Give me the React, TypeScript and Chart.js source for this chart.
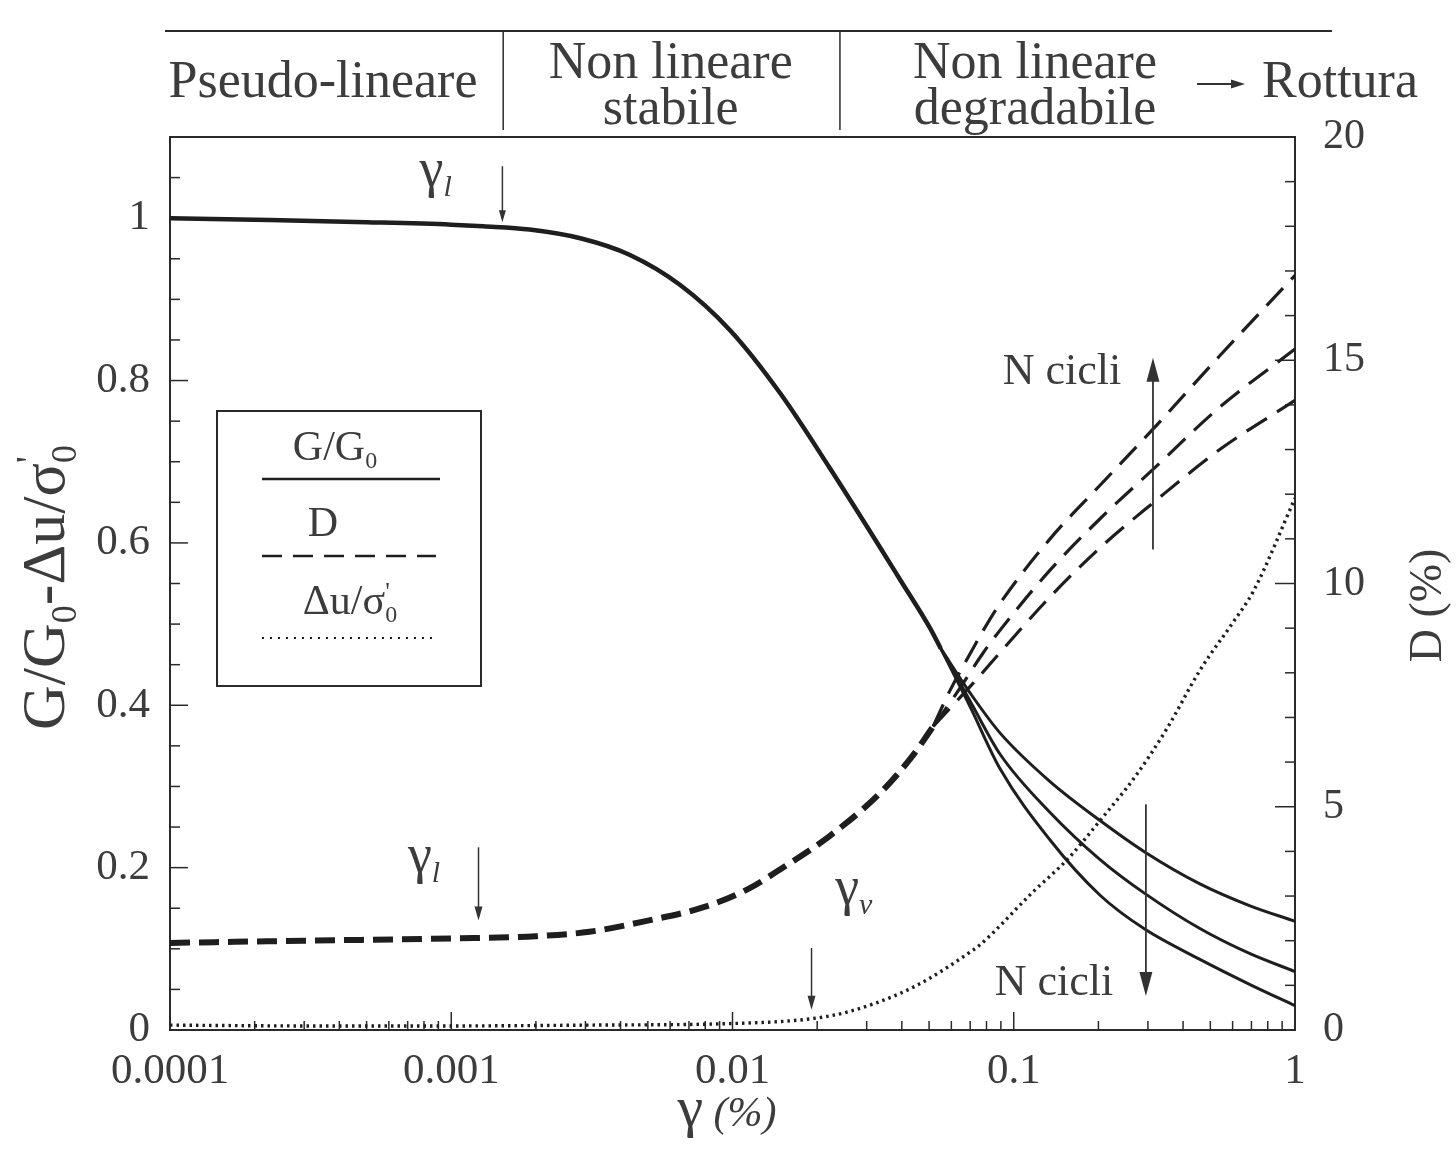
import React, { useEffect, useRef } from 'react';
import { Chart, registerables } from 'chart.js';

Chart.register(...registerables);

// ---------- axis ticks ----------
const gammaTicks = [0.0001, 0.001, 0.01, 0.1, 1];
const gammaTickLabels = ['0.0001', '0.001', '0.01', '0.1', '1'];
const leftTicks = [0, 0.2, 0.4, 0.6, 0.8, 1];
const leftTickLabels = ['0', '0.2', '0.4', '0.6', '0.8', '1'];
const rightTicks = [0, 5, 10, 15, 20];
const rightTickLabels = ['0', '5', '10', '15', '20'];

// ---------- G/G0 (left axis) ----------
const gCommonGamma = [0.0001, 0.0002, 0.0005, 0.001, 0.0013, 0.0019, 0.0029, 0.0043, 0.0065, 0.0098, 0.0148, 0.0222, 0.0334, 0.0394, 0.0504, 0.055];
const gCommonValue = [1.0, 0.998, 0.995, 0.992, 0.99, 0.986, 0.975, 0.955, 0.918, 0.862, 0.784, 0.692, 0.595, 0.555, 0.495, 0.47];
const gUpperGamma = [0.07, 0.0893, 0.1346, 0.2027, 0.293, 0.459, 0.692, 1];
const gUpperValue = [0.415, 0.366, 0.306, 0.258, 0.219, 0.18, 0.153, 0.134];
const gMiddleGamma = [0.07, 0.0893, 0.1346, 0.2027, 0.293, 0.459, 0.692, 1];
const gMiddleValue = [0.405, 0.34, 0.268, 0.21, 0.168, 0.125, 0.094, 0.072];
const gLowerGamma = [0.07, 0.0893, 0.1346, 0.2027, 0.293, 0.459, 0.692, 1];
const gLowerValue = [0.398, 0.322, 0.234, 0.166, 0.124, 0.087, 0.056, 0.03];

// ---------- D % (right axis) ----------
const dCommonGamma = [0.0001, 0.0003, 0.001, 0.002, 0.0031, 0.005, 0.0079, 0.0113, 0.0148, 0.0222, 0.0334, 0.0438, 0.0517];
const dCommonValue = [1.95, 2.0, 2.05, 2.1, 2.2, 2.45, 2.75, 3.15, 3.6, 4.35, 5.3, 6.15, 6.8];
const dUpperGamma = [0.0593, 0.0693, 0.0779, 0.0893, 0.1346, 0.2027, 0.312, 0.54, 1];
const dUpperValue = [7.6, 8.38, 8.95, 9.55, 11.0, 12.2, 13.45, 15.1, 16.9];
const dMiddleGamma = [0.0627, 0.0779, 0.0893, 0.1346, 0.2027, 0.312, 0.54, 1];
const dMiddleValue = [7.55, 8.45, 8.95, 10.3, 11.45, 12.55, 13.95, 15.25];
const dLowerGamma = [0.0737, 0.0893, 0.1346, 0.2027, 0.312, 0.54, 1];
const dLowerValue = [7.85, 8.45, 9.7, 10.8, 11.8, 13.0, 14.1];

// ---------- Δu/σ'0 (left axis) ----------
const uGamma = [0.0001, 0.0003, 0.001, 0.003, 0.01, 0.0192, 0.0255, 0.0394, 0.0504, 0.0686, 0.0759, 0.117, 0.156, 0.2027, 0.27, 0.35, 0.459, 0.61, 0.71, 1];
const uValue = [0.006, 0.005, 0.005, 0.006, 0.008, 0.014, 0.022, 0.045, 0.064, 0.094, 0.105, 0.17, 0.211, 0.258, 0.312, 0.371, 0.443, 0.505, 0.54, 0.655];

// ---------- annotations ----------
const regionBounds = [0.00153, 0.0241];
const regionLabelGamma = [0.00035, 0.00603, 0.119];
const gammaLTop = 0.00152;
const gammaLD = 0.00125;
const gammaV = 0.0191;
const nCicliUpGamma = 0.3126;
const nCicliDownGamma = 0.295;

const FONT = "'Liberation Serif', 'DejaVu Serif', 'Times New Roman', serif";
const TEXT = '#3c3c3c';
const LINE = '#1e1e1e';

const pts = (xs: number[], ys: number[]) => xs.map((x, i) => ({ x, y: ys[i] }));
const lastOf = (xs: number[], ys: number[]) => ({ x: xs[xs.length - 1], y: ys[ys.length - 1] });

type Part = { t: string; s: number; dy?: number; it?: boolean; adv?: boolean };

function fontOf(p: Part) {
  return `${p.it ? 'italic ' : ''}${p.s}px ${FONT}`;
}
function partsWidth(ctx: CanvasRenderingContext2D, parts: Part[]) {
  let w = 0;
  for (const p of parts) {
    ctx.font = fontOf(p);
    if (p.adv !== false) w += ctx.measureText(p.t).width;
  }
  return w;
}
function drawParts(ctx: CanvasRenderingContext2D, parts: Part[], x: number, y: number, align: 'left' | 'center' | 'right') {
  const w = partsWidth(ctx, parts);
  let cx = align === 'center' ? x - w / 2 : align === 'right' ? x - w : x;
  ctx.textAlign = 'left';
  ctx.textBaseline = 'alphabetic';
  for (const p of parts) {
    ctx.font = fontOf(p);
    ctx.fillText(p.t, cx, y + (p.dy || 0));
    if (p.adv !== false) cx += ctx.measureText(p.t).width;
  }
}
function drawArrow(ctx: CanvasRenderingContext2D, x1: number, y1: number, x2: number, y2: number, hl: number, hw: number, lw: number) {
  const a = Math.atan2(y2 - y1, x2 - x1);
  ctx.save();
  ctx.lineWidth = lw;
  ctx.strokeStyle = '#333';
  ctx.fillStyle = '#333';
  ctx.setLineDash([]);
  ctx.beginPath();
  ctx.moveTo(x1, y1);
  ctx.lineTo(x2 - Math.cos(a) * hl * 0.6, y2 - Math.sin(a) * hl * 0.6);
  ctx.stroke();
  ctx.beginPath();
  ctx.moveTo(x2, y2);
  ctx.lineTo(x2 - Math.cos(a) * hl + Math.sin(a) * hw / 2, y2 - Math.sin(a) * hl - Math.cos(a) * hw / 2);
  ctx.lineTo(x2 - Math.cos(a) * hl - Math.sin(a) * hw / 2, y2 - Math.sin(a) * hl + Math.cos(a) * hw / 2);
  ctx.closePath();
  ctx.fill();
  ctx.restore();
}

const decorPlugin = {
  id: 'decor',
  beforeDatasetsDraw(chart: any) {
    const { ctx, chartArea: ca, scales } = chart;
    const xs = scales.x, yl = scales.y, yr = scales.y2;
    ctx.save();
    ctx.strokeStyle = '#2a2a2a';
    ctx.lineWidth = 2;
    ctx.setLineDash([]);
    ctx.strokeRect(ca.left, ca.top, ca.right - ca.left, ca.bottom - ca.top);
    ctx.lineWidth = 1.5;
    for (let d = -4; d <= 0; d++) {
      for (let k = 1; k <= 9; k++) {
        const v = k * Math.pow(10, d);
        if (v > 1.0000001) break;
        const px = xs.getPixelForValue(v);
        const len = k === 1 ? 18 : 9;
        ctx.beginPath();
        ctx.moveTo(px, ca.bottom);
        ctx.lineTo(px, ca.bottom - len);
        ctx.stroke();
      }
    }
    for (let i = 0; i <= 21; i++) {
      const v = i * 0.05;
      const py = yl.getPixelForValue(v);
      const major = i % 4 === 0;
      ctx.beginPath();
      ctx.moveTo(ca.left, py);
      ctx.lineTo(ca.left + (major ? 18 : 10), py);
      ctx.stroke();
    }
    for (let i = 0; i <= 20; i++) {
      const py = yr.getPixelForValue(i);
      const major = i % 5 === 0;
      ctx.beginPath();
      ctx.moveTo(ca.right, py);
      ctx.lineTo(ca.right - (major ? 20 : 10), py);
      ctx.stroke();
    }
    ctx.restore();
  },
  afterDraw(chart: any) {
    const { ctx, chartArea: ca, scales } = chart;
    const xs = scales.x, yl = scales.y;
    const X = (g: number) => xs.getPixelForValue(g);
    const Y = (v: number) => yl.getPixelForValue(v);
    ctx.save();
    ctx.fillStyle = TEXT;

    // top band
    ctx.strokeStyle = '#2a2a2a';
    ctx.lineWidth = 2.2;
    ctx.beginPath();
    ctx.moveTo(165, 31);
    ctx.lineTo(1332, 31);
    ctx.stroke();
    ctx.lineWidth = 1.5;
    for (const g of regionBounds) {
      ctx.beginPath();
      ctx.moveTo(X(g), 31);
      ctx.lineTo(X(g), 130);
      ctx.stroke();
    }
    ctx.font = `52px ${FONT}`;
    ctx.textAlign = 'center';
    ctx.textBaseline = 'middle';
    ctx.fillText('Pseudo-lineare', X(regionLabelGamma[0]), 83);
    ctx.fillText('Non lineare', X(regionLabelGamma[1]), 64);
    ctx.fillText('stabile', X(regionLabelGamma[1]), 110);
    ctx.fillText('Non lineare', X(regionLabelGamma[2]), 64);
    ctx.fillText('degradabile', X(regionLabelGamma[2]), 110);
    drawArrow(ctx, 1197, 84, 1245, 84, 14, 9, 2);
    ctx.font = `52px ${FONT}`;
    ctx.textAlign = 'center';
    ctx.textBaseline = 'middle';
    ctx.fillText('Rottura', 1340, 83);

    // γ_l (top)
    ctx.fillStyle = TEXT;
    drawParts(ctx, [{ t: 'γ', s: 54 }, { t: 'l', s: 30, dy: 10, it: true }], X(0.00088), Y(1.04), 'center');
    drawArrow(ctx, X(gammaLTop), Y(1.064), X(gammaLTop), Y(0.995), 12, 7, 1.5);
    // γ_l (bottom)
    drawParts(ctx, [{ t: 'γ', s: 54 }, { t: 'l', s: 30, dy: 10, it: true }], X(0.0008), Y(0.195), 'center');
    drawArrow(ctx, X(gammaLD), Y(0.225), X(gammaLD), Y(0.135), 14, 8, 1.5);
    // γ_v
    drawParts(ctx, [{ t: 'γ', s: 54 }, { t: 'v', s: 30, dy: 10, it: true }], X(0.027), Y(0.155), 'center');
    drawArrow(ctx, X(gammaV), Y(0.101), X(gammaV), Y(0.025), 14, 8, 1.5);
    // N cicli
    ctx.fillStyle = TEXT;
    ctx.font = `44px ${FONT}`;
    ctx.textAlign = 'center';
    ctx.textBaseline = 'middle';
    ctx.fillText('N cicli', X(0.1485), Y(0.81));
    ctx.fillText('N cicli', X(0.139), Y(0.057));
    drawArrow(ctx, X(nCicliUpGamma), Y(0.592), X(nCicliUpGamma), Y(0.828), 24, 13, 1.8);
    drawArrow(ctx, X(nCicliDownGamma), Y(0.278), X(nCicliDownGamma), Y(0.042), 24, 13, 1.8);

    // legend box
    ctx.strokeStyle = '#2a2a2a';
    ctx.lineWidth = 2;
    ctx.setLineDash([]);
    ctx.strokeRect(217, 411, 264, 275);
    ctx.fillStyle = TEXT;
    drawParts(ctx, [{ t: 'G/G', s: 42 }, { t: '0', s: 24, dy: 8 }], 335, 460, 'center');
    ctx.strokeStyle = LINE;
    ctx.lineWidth = 2.5;
    ctx.beginPath(); ctx.moveTo(262, 479); ctx.lineTo(440, 479); ctx.stroke();
    drawParts(ctx, [{ t: 'D', s: 42 }], 323, 536, 'center');
    ctx.setLineDash([20, 11]);
    ctx.beginPath(); ctx.moveTo(262, 556); ctx.lineTo(436, 556); ctx.stroke();
    drawParts(ctx, [{ t: 'Δu/σ', s: 42 }, { t: "'", s: 26, dy: -14, adv: false }, { t: '0', s: 24, dy: 8 }], 350, 614, 'center');
    ctx.setLineDash([2, 6]);
    ctx.lineWidth = 2.2;
    ctx.beginPath(); ctx.moveTo(262, 638); ctx.lineTo(437, 638); ctx.stroke();
    ctx.setLineDash([]);

    // axis titles
    ctx.fillStyle = TEXT;
    ctx.save();
    ctx.translate(64, (ca.top + ca.bottom) / 2 + 4);
    ctx.rotate(-Math.PI / 2);
    drawParts(ctx, [
      { t: 'G/G', s: 62 }, { t: '0', s: 36, dy: 12 }, { t: '-Δu/σ', s: 62 },
      { t: "'", s: 38, dy: -22, adv: false }, { t: '0', s: 36, dy: 12 },
    ], 0, 0, 'center');
    ctx.restore();
    ctx.save();
    ctx.translate(1441, (ca.top + ca.bottom) / 2 + 22);
    ctx.rotate(-Math.PI / 2);
    drawParts(ctx, [{ t: 'D (%)', s: 46 }], 0, 0, 'center');
    ctx.restore();
    drawParts(ctx, [{ t: 'γ', s: 58 }, { t: ' (%)', s: 42, it: true }], 727, 1126, 'center');
    ctx.restore();
  },
};

export default function App() {
  const ref = useRef<HTMLCanvasElement>(null);
  useEffect(() => {
    const canvas = ref.current!;
    const gLast = lastOf(gCommonGamma, gCommonValue);
    const dLast = lastOf(dCommonGamma, dCommonValue);
    const solid = (data: any[], w: number) => ({
      data, yAxisID: 'y', borderColor: LINE, borderWidth: w, pointRadius: 0,
      cubicInterpolationMode: 'monotone' as const, fill: false,
    });
    const dashed = (data: any[], w: number, dash: number[]) => ({
      data, yAxisID: 'y2', borderColor: LINE, borderWidth: w, borderDash: dash, pointRadius: 0,
      cubicInterpolationMode: 'monotone' as const, fill: false,
    });
    const chart = new Chart(canvas, {
      type: 'line',
      data: {
        datasets: [
          { label: 'G/G0', ...solid(pts(gCommonGamma, gCommonValue), 4.5) },
          { label: 'G/G0 a', ...solid([gLast, ...pts(gUpperGamma, gUpperValue)], 3) },
          { label: 'G/G0 b', ...solid([gLast, ...pts(gMiddleGamma, gMiddleValue)], 3) },
          { label: 'G/G0 c', ...solid([gLast, ...pts(gLowerGamma, gLowerValue)], 3) },
          { label: 'D', ...dashed(pts(dCommonGamma, dCommonValue), 6, [20, 9]) },
          { label: 'D a', ...dashed([dLast, ...pts(dUpperGamma, dUpperValue)], 3.2, [24, 12]) },
          { label: 'D b', ...dashed([dLast, ...pts(dMiddleGamma, dMiddleValue)], 3.2, [24, 12]) },
          { label: 'D c', ...dashed([dLast, ...pts(dLowerGamma, dLowerValue)], 3.2, [24, 12]) },
          {
            label: 'Δu/σ0', data: pts(uGamma, uValue), yAxisID: 'y', borderColor: '#1e1e1e', borderWidth: 3.4,
            borderDash: [2.5, 4], pointRadius: 0, cubicInterpolationMode: 'monotone', fill: false,
          },
        ],
      },
      options: {
        animation: false,
        responsive: false,
        devicePixelRatio: 1,
        layout: { padding: { top: 137, left: 0, right: 0, bottom: 0 } },
        plugins: { legend: { display: false }, tooltip: { enabled: false } },
        scales: {
          x: {
            type: 'logarithmic', min: 0.0001, max: 1, position: 'bottom',
            grid: { display: false }, border: { display: false },
            afterBuildTicks: (s: any) => { s.ticks = gammaTicks.map((v) => ({ value: v })); },
            afterFit: (s: any) => { s.height = 119; },
            ticks: {
              autoSkip: false, maxRotation: 0, padding: 8, color: TEXT,
              font: { family: FONT, size: 43 },
              callback: (v: any) => {
                const i = gammaTicks.findIndex((t) => Math.abs(t - Number(v)) / t < 1e-6);
                return i >= 0 ? gammaTickLabels[i] : '';
              },
            },
          },
          y: {
            type: 'linear', min: 0, max: 1.1, position: 'left',
            grid: { display: false }, border: { display: false },
            afterBuildTicks: (s: any) => { s.ticks = leftTicks.map((v) => ({ value: v })); },
            afterFit: (s: any) => { s.width = 170; },
            ticks: {
              padding: 12, color: TEXT, font: { family: FONT, size: 43 },
              callback: (v: any) => {
                const i = leftTicks.findIndex((t) => Math.abs(t - Number(v)) < 1e-6);
                return i >= 0 ? leftTickLabels[i] : '';
              },
            },
          },
          y2: {
            type: 'linear', min: 0, max: 20, position: 'right',
            grid: { display: false }, border: { display: false },
            afterBuildTicks: (s: any) => { s.ticks = rightTicks.map((v) => ({ value: v })); },
            afterFit: (s: any) => { s.width = 161; },
            ticks: {
              padding: 20, color: TEXT, font: { family: FONT, size: 42 },
              callback: (v: any) => {
                const i = rightTicks.findIndex((t) => Math.abs(t - Number(v)) < 1e-6);
                return i >= 0 ? rightTickLabels[i] : '';
              },
            },
          },
        },
      },
      plugins: [decorPlugin],
    } as any);
    return () => chart.destroy();
  }, []);
  return (
    <div style={{ position: 'fixed', left: 0, top: 0, width: 1456, height: 1149, background: '#fff' }}>
      <canvas ref={ref} width={1456} height={1149} style={{ width: 1456, height: 1149, display: 'block' }} />
    </div>
  );
}
